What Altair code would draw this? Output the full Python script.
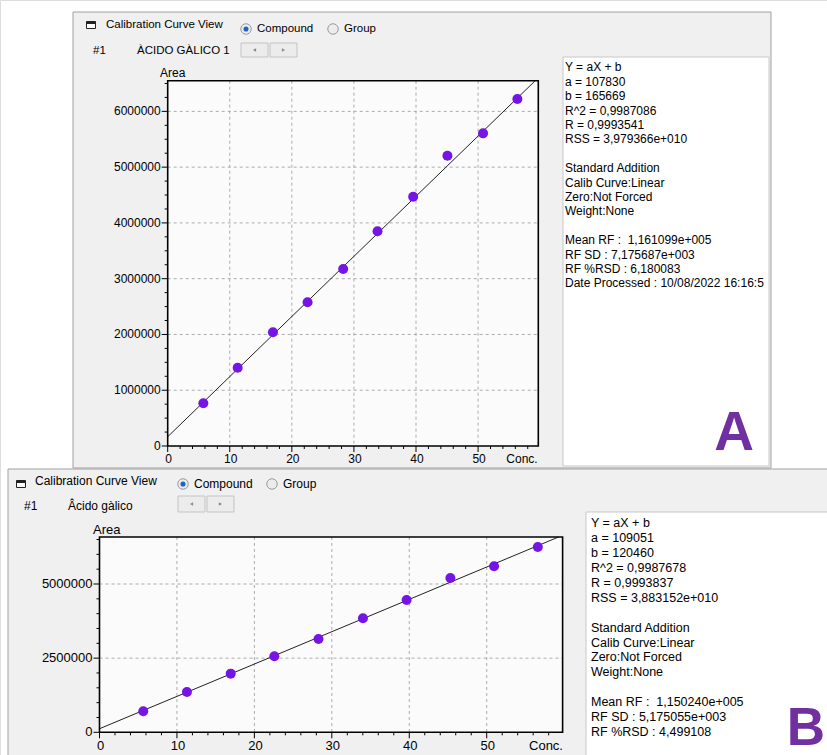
import altair as alt
import pandas as pd

# ---------------- data ----------------
conc_a = [5.74, 11.27, 16.95, 22.53, 28.27, 33.80, 39.54, 45.06, 50.80, 56.33]
area_a = [765000, 1404000, 2038000, 2576000, 3173000, 3849000, 4470000, 5205000, 5606000, 6221000]
fit_a = {"a": 107830, "b": 165669}

conc_b = [5.65, 11.29, 16.94, 22.58, 28.28, 34.02, 39.66, 45.31, 50.95, 56.60]
area_b = [708000, 1360000, 1978000, 2562000, 3146000, 3843000, 4461000, 5202000, 5596000, 6247000]
fit_b = {"a": 109051, "b": 120460}

x_ticks = [0, 10, 20, 30, 40, 50]
x_minor = [v for v in range(2, 60, 2) if v % 10 != 0]
y_ticks_a = [0, 1000000, 2000000, 3000000, 4000000, 5000000, 6000000]
y_minor_a = [v for v in range(250000, 6550000, 250000) if v % 1000000 != 0]
y_ticks_b = [0, 2500000, 5000000]
y_minor_b = [v for v in range(500000, 6550000, 500000) if v % 2500000 != 0]

info_a = ["Y = aX + b", "a = 107830", "b = 165669", "R^2 = 0,9987086", "R = 0,9993541",
          "RSS = 3,979366e+010", "", "Standard Addition", "Calib Curve:Linear",
          "Zero:Not Forced", "Weight:None", "", "Mean RF : \u00a01,161099e+005",
          "RF SD : 7,175687e+003", "RF %RSD : 6,180083", "Date Processed : 10/08/2022 16:16:5"]
info_b = ["Y = aX + b", "a = 109051", "b = 120460", "R^2 = 0,9987678", "R = 0,9993837",
          "RSS = 3,883152e+010", "", "Standard Addition", "Calib Curve:Linear",
          "Zero:Not Forced", "Weight:None", "", "Mean RF : \u00a01,150240e+005",
          "RF SD : 5,175055e+003", "RF %RSD : 4,499108"]

FONT = "Liberation Sans"
PT_COLOR = "#7614e6"
one = pd.DataFrame({"k": [0]})


def box(x1, x2, y1, y2, **kw):
    return alt.Chart(one).mark_rect(**kw).encode(
        x=alt.value(x1), x2=alt.value(x2), y=alt.value(y1), y2=alt.value(y2))


def label(x, y, s, size=12, align="left", baseline="middle", color="#000000", **kw):
    return alt.Chart(one).mark_text(font=FONT, fontSize=size, align=align,
                                    baseline=baseline, color=color, **kw).encode(
        x=alt.value(x), y=alt.value(y), text=alt.value(s))


def info_block(lines, x, y0, lh, size):
    df = pd.DataFrame({"i": list(range(len(lines))), "t": lines})
    df = df[df["t"] != ""]
    n = len(lines) - 1
    return alt.Chart(df).mark_text(font=FONT, fontSize=size, align="left", baseline="middle",
                                   color="#000000").encode(
        x=alt.value(x),
        y=alt.Y("i:Q", scale=alt.Scale(domain=[0, n], range=[y0, y0 + n * lh], nice=False, zero=False),
                axis=None),
        text="t:N")


def radio(x, y, selected):
    out = [alt.Chart(one).mark_circle(size=110, color="#ececec", stroke="#9a9a9a",
                                      strokeWidth=1, opacity=1).encode(
        x=alt.value(x), y=alt.value(y))]
    if selected:
        out.append(alt.Chart(one).mark_circle(size=26, color="#1e64c8", opacity=1).encode(
            x=alt.value(x), y=alt.value(y)))
    return out


def header(P, name):
    L = []
    ix, iy = P["icon"]
    L.append(box(ix - 4.5, ix + 4.5, iy - 3.5, iy + 3.5, fill="#ffffff", stroke="#222222", strokeWidth=1))
    L.append(box(ix - 4.5, ix + 4.5, iy - 3.5, iy - 1, fill="#222222"))
    fs = P["hfs"]
    L.append(label(P["title"][0], P["title"][1], "Calibration Curve View", size=fs))
    L += radio(P["r1"][0], P["r1"][1], True)
    L.append(label(P["r1"][0] + 11, P["r1"][1], "Compound", size=fs))
    L += radio(P["r2"][0], P["r2"][1], False)
    L.append(label(P["r2"][0] + 11, P["r2"][1], "Group", size=fs))
    L.append(label(P["num"][0], P["num"][1], "#1", size=fs))
    L.append(label(P["name"][0], P["name"][1], name, size=fs))
    (b1a, b1b), (b2a, b2b), (by1, by2) = P["btn"]
    L.append(box(b1a, b1b, by1, by2, fill="#ececec", stroke="#c4c4c4", strokeWidth=1))
    L.append(box(b2a, b2b, by1, by2, fill="#ececec", stroke="#c4c4c4", strokeWidth=1))
    cy = (by1 + by2) / 2
    L.append(alt.Chart(one).mark_point(shape="triangle-left", filled=True, size=14, color="#8a8a8a", opacity=1)
             .encode(x=alt.value((b1a + b1b) / 2), y=alt.value(cy)))
    L.append(alt.Chart(one).mark_point(shape="triangle-right", filled=True, size=14, color="#8a8a8a", opacity=1)
             .encode(x=alt.value((b2a + b2b) / 2), y=alt.value(cy)))
    return L


def plot(P, conc, area, fit, yticks, yminor):
    xs = alt.Scale(domain=P["xdom"], range=P["xrng"], nice=False, zero=False)
    ys = alt.Scale(domain=P["ydom"], range=P["yrng"], nice=False, zero=False)
    X = lambda f: alt.X(f, type="quantitative", scale=xs, axis=None)
    Y = lambda f: alt.Y(f, type="quantitative", scale=ys, axis=None)
    left, right = P["xrng"]
    bottom, top = P["yrng"]
    fs = P["tfs"]
    L = []
    L.append(box(left, right, top, bottom, fill="#fbfbfb"))
    grid = dict(color="#ababab", strokeDash=[3, 3], strokeWidth=1)
    L.append(alt.Chart(pd.DataFrame({"v": x_ticks[1:]})).mark_rule(**grid)
             .encode(x=X("v"), y=alt.value(top), y2=alt.value(bottom)))
    L.append(alt.Chart(pd.DataFrame({"v": yticks[1:]})).mark_rule(**grid)
             .encode(y=Y("v"), x=alt.value(left), x2=alt.value(right)))
    # fitted line y = a x + b, clipped at the top of the plot
    x_end = min(P["xdom"][1], (P["ydom"][1] - fit["b"]) / fit["a"])
    line = pd.DataFrame({"x": [0, x_end], "y": [fit["b"], fit["a"] * x_end + fit["b"]]})
    L.append(alt.Chart(line).mark_line(color="#222222", strokeWidth=1).encode(x=X("x"), y=Y("y")))
    pts = pd.DataFrame({"x": conc, "y": area})
    L.append(alt.Chart(pts).mark_point(shape="circle", filled=True, size=100, color=PT_COLOR, opacity=1)
             .encode(x=X("x"), y=Y("y")))
    # frame
    L.append(box(left, right, top, bottom, fill="transparent", stroke="#000000", strokeWidth=1.6))
    # ticks
    tk = dict(color="#000000", strokeWidth=1)
    L.append(alt.Chart(pd.DataFrame({"v": x_ticks})).mark_rule(**tk)
             .encode(x=X("v"), y=alt.value(bottom), y2=alt.value(bottom + 6)))
    L.append(alt.Chart(pd.DataFrame({"v": x_minor})).mark_rule(**tk)
             .encode(x=X("v"), y=alt.value(bottom), y2=alt.value(bottom + 3)))
    L.append(alt.Chart(pd.DataFrame({"v": yticks})).mark_rule(**tk)
             .encode(y=Y("v"), x=alt.value(left - 6), x2=alt.value(left)))
    L.append(alt.Chart(pd.DataFrame({"v": yminor})).mark_rule(**tk)
             .encode(y=Y("v"), x=alt.value(left - 3), x2=alt.value(left)))
    # tick labels
    xl = pd.DataFrame({"v": x_ticks, "lab": [str(v) for v in x_ticks]})
    L.append(alt.Chart(xl).mark_text(font=FONT, fontSize=fs, align="center", baseline="middle", dx=1)
             .encode(x=X("v"), y=alt.value(P["xlab_y"]), text="lab:N"))
    yl = pd.DataFrame({"v": yticks, "lab": [str(v) for v in yticks]})
    L.append(alt.Chart(yl).mark_text(font=FONT, fontSize=fs, align="right", baseline="middle")
             .encode(y=Y("v"), x=alt.value(left - 7), text="lab:N"))
    L.append(label(P["conc"][0], P["conc"][1], "Conc.", size=fs, align="center"))
    L.append(label(P["area"][0], P["area"][1], "Area", size=fs))
    return L


PA = dict(icon=(91, 25), hfs=11.5, title=(106, 25), r1=(246, 29), r2=(333, 29),
          num=(93, 51), name=(137, 51), btn=((241, 268), (270, 297), (43, 57)),
          xdom=[0, 59.7], xrng=[167.7, 538.3], ydom=[0, 6550000], yrng=[446, 80.7],
          tfs=12, xlab_y=459, conc=(522, 459), area=(160, 73))
PB = dict(icon=(21, 484), hfs=12, title=(35, 481), r1=(183, 484), r2=(272, 484),
          num=(24, 506), name=(68, 506), btn=((178, 205), (207, 234), (496, 512)),
          xdom=[0, 59.8], xrng=[99.5, 562.6], ydom=[0, 6585000], yrng=[732.3, 537],
          tfs=13, xlab_y=746, conc=(546, 746), area=(93, 530))

layers = []
# ---- panel A ----
layers.append(box(73, 771, 12, 468, fill="#f0f0f0", stroke="#a0a0a0", strokeWidth=1))
layers += header(PA, "ÀCIDO GÀLICO 1")
layers += plot(PA, conc_a, area_a, fit_a, y_ticks_a, y_minor_a)
layers.append(box(563, 769, 57, 466, fill="#ffffff", stroke="#c8c8c8", strokeWidth=1))
layers.append(info_block(info_a, 565, 67.3, 14.4, 12))
layers.append(label(734, 450, "A", size=55, align="center", baseline="alphabetic",
                    color="#7030a0", fontWeight="bold"))
# ---- panel B ----
layers.append(box(8, 830, 469, 758, fill="#f0f0f0", stroke="#a0a0a0", strokeWidth=1))
layers += header(PB, "Âcido gàlico")
layers += plot(PB, conc_b, area_b, fit_b, y_ticks_b, y_minor_b)
layers.append(box(586, 830, 512, 758, fill="#ffffff", stroke="#c8c8c8", strokeWidth=1))
layers.append(info_block(info_b, 591, 523.3, 14.9, 12.5))
layers.append(label(806, 745, "B", size=53, align="center", baseline="alphabetic",
                    color="#7030a0", fontWeight="bold"))

chart = (alt.layer(*layers)
         .resolve_scale(x="independent", y="independent")
         .properties(width=827, height=755, padding=0,
                     autosize=alt.AutoSizeParams(type="none"))
         .configure_view(stroke=None)
         .configure(background="#ffffff"))

chart.save("out.html", embed_options={"renderer": "svg", "actions": False})
